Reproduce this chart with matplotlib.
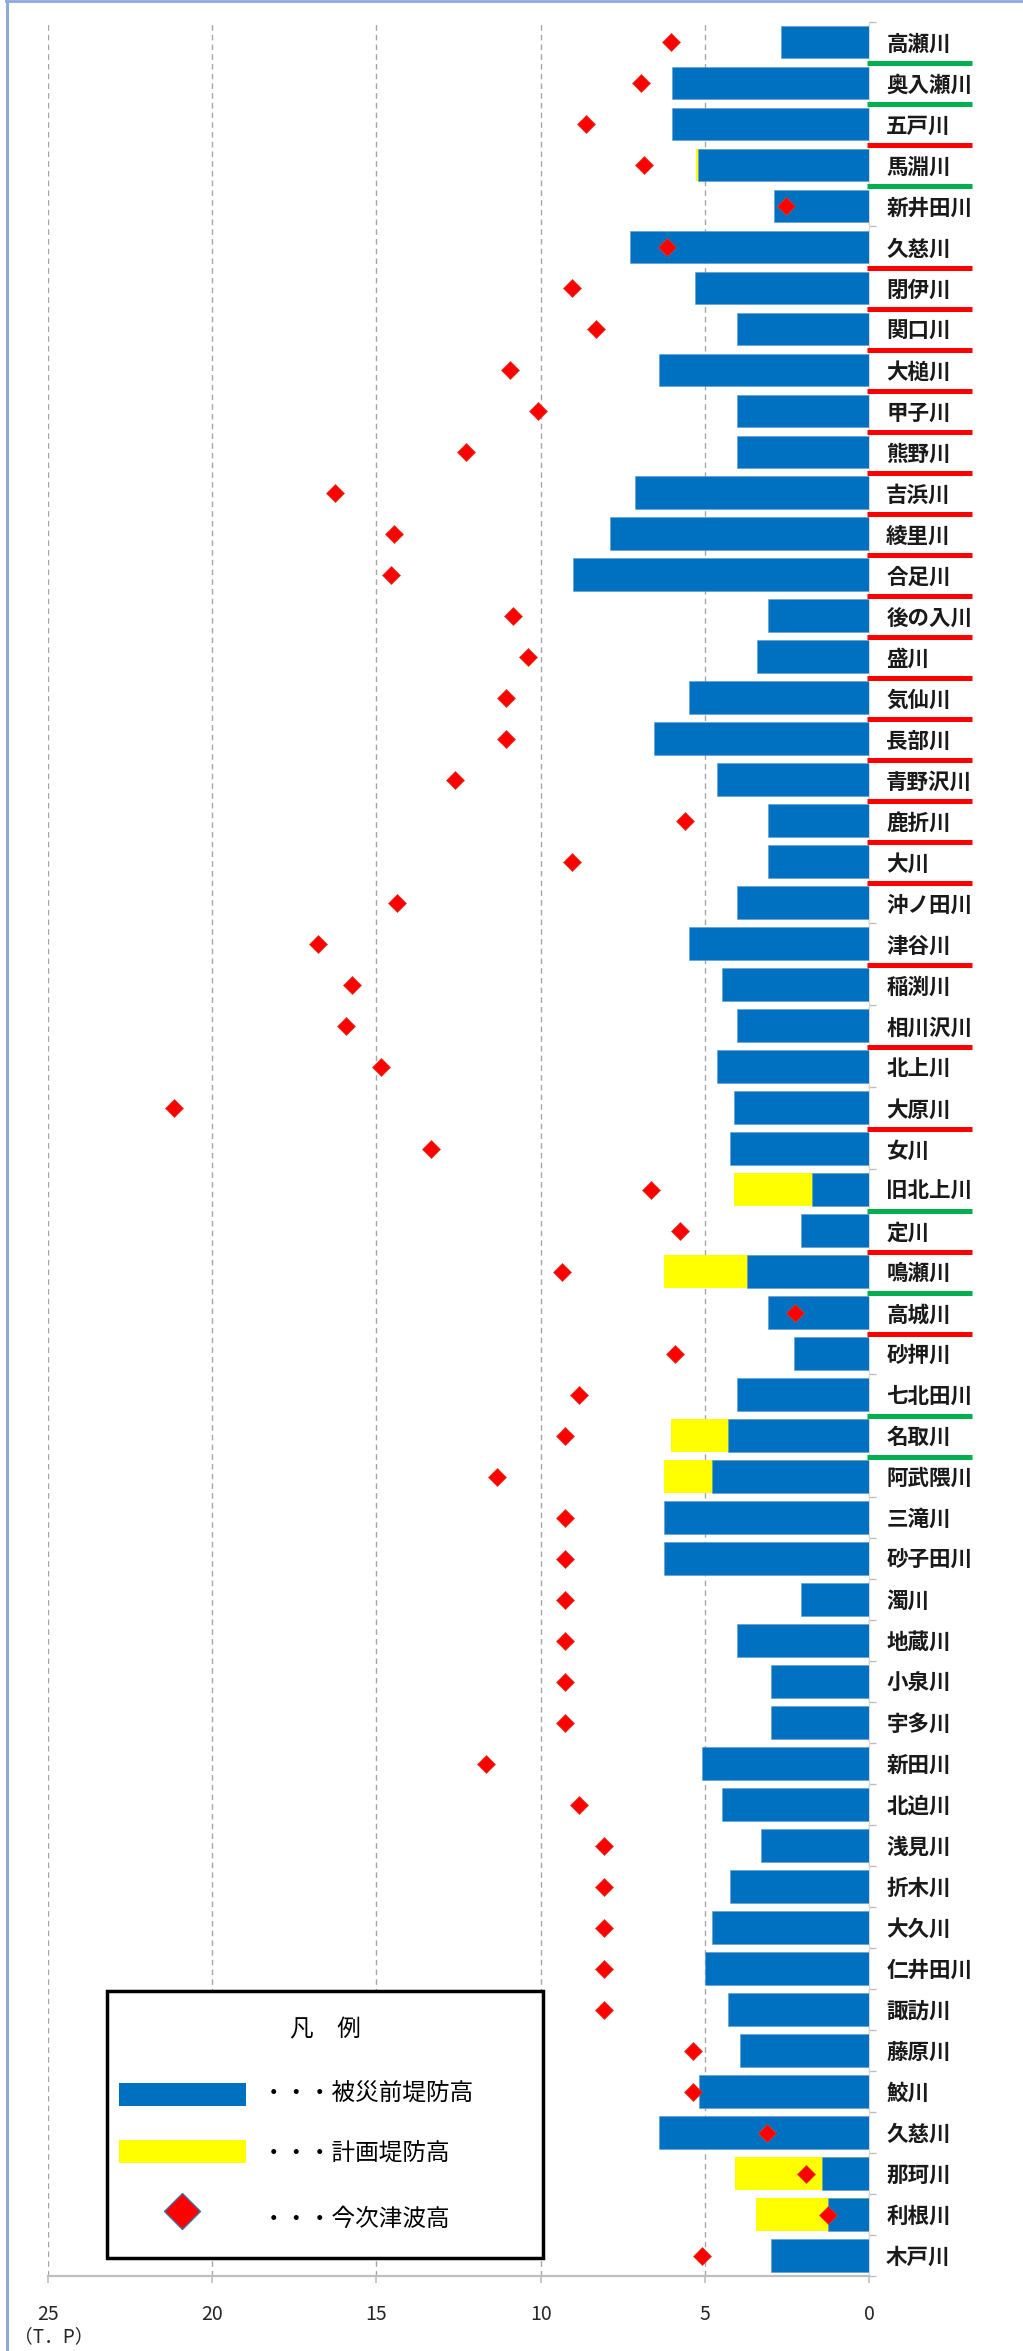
import matplotlib
matplotlib.use('Agg')
import matplotlib.pyplot as plt
import numpy as np
from matplotlib.patches import Rectangle
from matplotlib.lines import Line2D

plt.rcParams['font.family'] = ['Noto Sans CJK JP', 'DejaVu Sans']

rivers = ['高瀬川', '奥入瀬川', '五戸川', '馬淵川', '新井田川', '久慈川', '閉伊川', '関口川',
          '大槌川', '甲子川', '熊野川', '吉浜川', '綾里川', '合足川', '後の入川', '盛川',
          '気仙川', '長部川', '青野沢川', '鹿折川', '大川', '沖ノ田川', '津谷川', '稲渕川',
          '相川沢川', '北上川', '大原川', '女川', '旧北上川', '定川', '鳴瀬川', '高城川',
          '砂押川', '七北田川', '名取川', '阿武隈川', '三滝川', '砂子田川', '濁川', '地蔵川',
          '小泉川', '宇多川', '新田川', '北迫川', '浅見川', '折木川', '大久川', '仁井田川',
          '諏訪川', '藤原川', '鮫川', '久慈川', '那珂川', '利根川', '木戸川']

existing = [2.70, 6.01, 6.01, 5.22, 2.92, 7.30, 5.32, 4.03, 6.41, 4.03, 4.03, 7.14, 7.90, 9.03,
            3.10, 3.43, 5.50, 6.55, 4.64, 3.10, 3.10, 4.03, 5.50, 4.48, 4.03, 4.64, 4.13, 4.23,
            1.75, 2.08, 3.73, 3.10, 2.30, 4.03, 4.29, 4.78, 6.25, 6.25, 2.08, 4.03, 3.00, 3.00,
            5.10, 4.48, 3.31, 4.23, 4.78, 5.00, 4.29, 3.93, 5.20, 6.41, 1.43, 1.25, 3.00]

nan = float('nan')
planned = [nan, nan, nan, 5.27, nan, nan, nan, nan, nan, nan, nan, nan, nan, nan,
           nan, nan, nan, nan, nan, nan, nan, nan, nan, nan, nan, nan, nan, nan,
           4.13, nan, 6.25, nan, nan, nan, 6.03, 6.25, nan, nan, nan, nan, nan, nan,
           nan, nan, nan, nan, nan, nan, nan, nan, nan, nan, 4.09, 3.45, nan]

tsunami = [6.03, 6.94, 8.63, 6.85, 2.54, 6.15, 9.05, 8.33, 10.93, 10.08, 12.28, 16.25, 14.46, 14.56,
           10.83, 10.38, 11.05, 11.05, 12.62, 5.60, 9.05, 14.37, 16.77, 15.73, 15.93, 14.86, 21.17, 13.35,
           6.65, 5.77, 9.35, 2.28, 5.93, 8.85, 9.25, 11.33, 9.25, 9.25, 9.25, 9.25, 9.25, 9.25,
           11.67, 8.85, 8.08, 8.08, 8.08, 8.08, 8.08, 5.38, 5.38, 3.12, 1.92, 1.27, 5.08]

# colour of the mark drawn below each river label ('' = none)
underline = ['g', 'g', 'r', 'g', '', 'r', 'r', 'r', 'r', 'r', 'r', 'r', 'r', 'r',
             'r', 'r', 'r', 'r', 'r', 'r', 'r', '', 'r', '', 'r', '', 'r', '',
             'g', 'r', 'g', 'r', '', 'g', 'g', '', '', '', '', '', '', '',
             '', '', '', '', '', '', '', '', '', '', '', '', '']

xticks = [25, 20, 15, 10, 5, 0]
legend_title = '凡　例'
legend_labels = ['・・・被災前堤防高', '・・・計画堤防高', '・・・今次津波高']
unit_label = '（T．P）'

BLUE = '#0070C0'
YELLOW = '#FFFF00'
RED = '#FF0000'
GREEN = '#00B050'
line_colors = {'g': GREEN, 'r': RED}

W, H = 1023, 2351
fig = plt.figure(figsize=(W / 100, H / 100), dpi=100)
ax = fig.add_axes([47.6 / W, 1 - 2276 / H, (869.5 - 47.6) / W, (2276 - 21.5) / H])

n = len(rivers)
y = np.arange(n)
ax.barh(y, planned, height=0.8, color=YELLOW, zorder=2)
ax.barh(y, existing, height=0.8, color=BLUE, edgecolor='#5b9bd5', linewidth=0.4, zorder=3)
ax.plot(tsunami, y, linestyle='none', marker='D', ms=9.2, mfc=RED, mec='#d8402a', mew=0.5, zorder=4)

ax.set_xlim(25, 0)
ax.set_ylim(n - 0.5, -0.5)
ax.set_xticks(xticks)
ax.set_xticklabels([str(t) for t in xticks])
ax.yaxis.tick_right()
ax.set_yticks(y)
ax.set_yticklabels(rivers, fontsize=15.5, fontweight='bold', color='#1a1a1a')
ax.set_yticks(np.arange(n + 1) - 0.5, minor=True)
ax.tick_params(axis='y', which='major', length=0, pad=12)
ax.tick_params(axis='y', which='minor', length=5, color='#bfbfbf', width=1)
ax.tick_params(axis='x', length=5, color='#bfbfbf', width=1.2, pad=15, labelsize=14, labelcolor='#262626')
for s in ['top', 'left']:
    ax.spines[s].set_visible(False)
ax.spines['bottom'].set_color('#bfbfbf')
ax.spines['bottom'].set_linewidth(1.6)
ax.spines['right'].set_color('#d9d9d9')
ax.spines['right'].set_linewidth(0.8)
ax.set_axisbelow(True)
ax.xaxis.grid(True, linestyle=(0, (4, 3)), color='#a6a6a6', linewidth=1.0)

for i, c in enumerate(underline):
    if c:
        ax.plot([0.08, -3.12], [i + 0.52, i + 0.52], color=line_colors[c], lw=3.6,
                solid_capstyle='butt', clip_on=False, zorder=5)

# legend box
def fx(px):
    return px / W

def fy(py):
    return 1 - py / H

fig.add_artist(Rectangle((fx(107), fy(2258)), fx(543) - fx(107), (2258 - 1991) / H,
                         transform=fig.transFigure, facecolor='white', edgecolor='black',
                         linewidth=2.5, zorder=10))
fig.text(fx(325), fy(2030), legend_title, ha='center', va='center', fontsize=17, zorder=11)
fig.add_artist(Rectangle((fx(119), fy(2106)), fx(246) - fx(119), 23 / H,
                         transform=fig.transFigure, facecolor=BLUE, edgecolor='none', zorder=11))
fig.add_artist(Rectangle((fx(119), fy(2163)), fx(246) - fx(119), 23 / H,
                         transform=fig.transFigure, facecolor=YELLOW, edgecolor='none', zorder=11))
fig.add_artist(Line2D([fx(182)], [fy(2211)], marker='D', ms=18.5, mfc=RED, mec='#41719c',
                      mew=1, linestyle='none', transform=fig.transFigure, zorder=11))
for ty, lab in zip([2093, 2153, 2219], legend_labels):
    fig.text(fx(262), fy(ty), lab, ha='left', va='center', fontsize=17, zorder=11)

fig.text(fx(14), fy(2337), unit_label, ha='left', va='center', fontsize=13.5, color='#262626')

# image frame lines
fig.add_artist(Line2D([fx(7), fx(7)], [0, 1], color='#8eaadb', lw=2.2, transform=fig.transFigure))
fig.add_artist(Line2D([fx(6), 1], [fy(1), fy(1)], color='#8eaadb', lw=2.0, transform=fig.transFigure))

fig.savefig('out.png', dpi=100)
